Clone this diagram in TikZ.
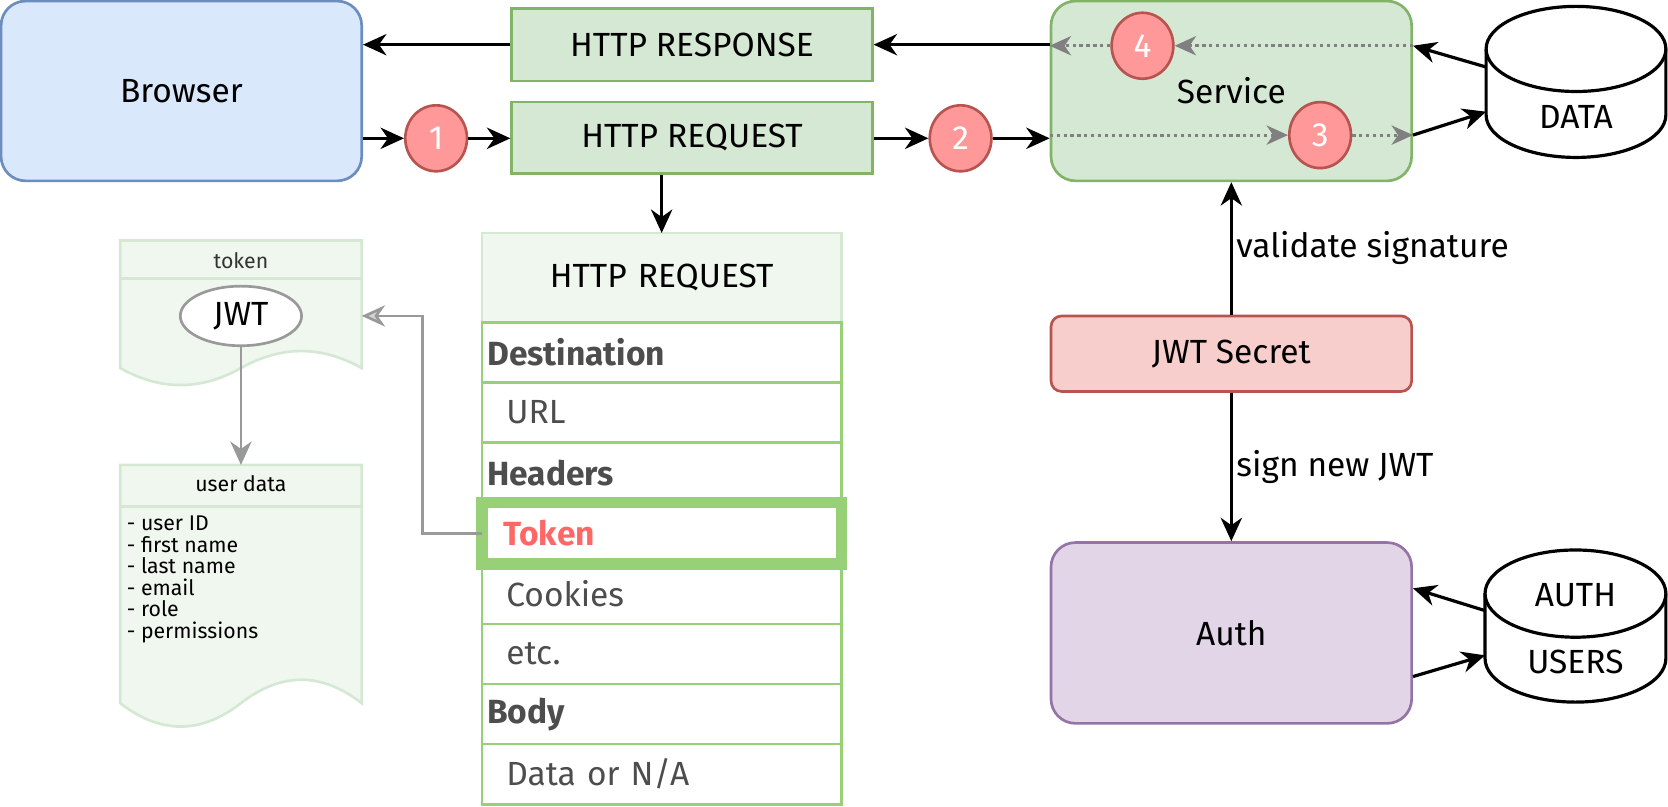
\documentclass[tikz,border=0pt]{standalone}
\usepackage{fontspec}
\setmainfont{Fira Sans}
\usetikzlibrary{positioning,shapes.geometric,arrows.meta}

\definecolor{bluFill}{HTML}{DAE8FC}
\definecolor{bluLine}{HTML}{6C8EBF}
\definecolor{grnFill}{HTML}{D5E8D4}
\definecolor{grnLine}{HTML}{82B366}
\definecolor{redFill}{HTML}{F8CECC}
\definecolor{redLine}{HTML}{B85450}
\definecolor{purFill}{HTML}{E1D5E7}
\definecolor{purLine}{HTML}{9673A6}
\definecolor{numFill}{HTML}{FF9999}
\definecolor{tblLine}{HTML}{97D077}
\definecolor{tblText}{HTML}{4D4D4D}
\definecolor{tokRed}{HTML}{FF6666}
\definecolor{docFill}{HTML}{F0F7EF}
\definecolor{docLine}{HTML}{D5E8D4}
\definecolor{arrGray}{HTML}{999999}
\definecolor{dotGray}{HTML}{808080}

\begin{document}
\begin{tikzpicture}[
	x=1pt, y=-1pt,
	font=\fontsize{31.5}{36}\selectfont,
	box/.style = {draw, line width=2.5pt, inner sep=0pt, minimum width=339pt},
	msg/.style = {box, fill=grnFill, draw=grnLine},
	num/.style = {ellipse, draw=redLine, fill=numFill, line width=2.5pt, minimum width=58pt, minimum height=62pt, inner sep=0pt, text=white},
	arr/.style = {line width=3pt, -{Stealth[length=22pt, width=20pt, inset=7pt]}},
	dots/.style = {draw=dotGray, line width=3pt, dash pattern=on 3pt off 3.5pt, -{Stealth[length=20pt, width=18pt, inset=6pt]}},
	garr/.style = {draw=arrGray, line width=2.5pt, -{Stealth[length=22pt, width=20pt, inset=7pt]}},
	doc/.style = {draw=docLine, fill=docFill, line width=2.5pt},
	small/.style = {font=\fontsize{20}{20.2}\selectfont},
	cyl/.style = {draw, fill=white, line width=3pt},
	row/.style = {draw=tblLine, line width=2.5pt, outer sep=0pt, minimum width=338pt, minimum height=56.5pt, text width=328pt, inner xsep=5pt, inner ysep=0pt, align=left, text=tblText},
	sect/.style = {row, font=\fontsize{31.5}{36}\selectfont\bfseries},
	item/.style = {row, execute at begin node=\hspace*{18pt}},
	]
	\useasboundingbox (0,0) rectangle (1568,758.5);

	% main flow
	\node[box, fill=bluFill, draw=bluLine, rounded corners=23pt, minimum height=169pt] (browser) at (170.5,85.5) {Browser};
	\node[msg, minimum height=68pt] (resp) at (650.5,42) {HTTP RESPONSE};
	\node[msg, minimum height=67pt] (req) at (650.5,129.5) {HTTP REQUEST};
	\node[box, fill=grnFill, draw=grnLine, rounded corners=23pt, minimum height=169pt] (svc) at (1157.5,85.5) {Service};
	\node[box, fill=redFill, draw=redLine, rounded corners=10pt, minimum height=71pt] (sec) at (1157.5,332.5) {JWT Secret};
	\node[box, fill=purFill, draw=purLine, rounded corners=23pt, minimum height=170pt] (auth) at (1157.5,595) {Auth};

	\node[num] (c1) at (410,130) {1};
	\node[num] (c2) at (903,130) {2};
	\node[num] (c3) at (1241,127) {3};
	\node[num] (c4) at (1074,43) {4};

	\draw[arr] (resp.west) -- (browser.east |- resp);
	\draw[arr] (browser.east |- c1) -- (c1);
	\draw[arr] (c1) -- (req.west |- c1);
	\draw[arr] (req.east |- c2) -- (c2);
	\draw[arr] (c2) -- (svc.west |- c2);
	\draw[arr] (svc.west |- resp) -- (resp.east);

	\draw[dots] (svc.west |- c3) -- (c3);
	\draw[dots] (c3) -- (svc.east |- c3);
	\draw[dots] (svc.east |- c4) -- (c4);
	\draw[dots] (c4) -- (svc.west |- c4);

	\draw[arr] (sec) -- (svc) node[midway, right] {validate signature};
	\draw[arr] (sec) -- (auth) node[midway, right] {sign new JWT};

	% databases
	\draw[cyl] (1397,46) -- (1397,108) arc[start angle=180, end angle=0, x radius=84.5, y radius=40] -- (1566,46);
	\draw[cyl] (1481.5,46) ellipse [x radius=84.5, y radius=40];
	\node (data) at (1481.5,110) {DATA};
	\coordinate (dtop) at (1397,63);
	\coordinate (dbot) at (1397,105);
	\draw[arr] (dtop) -- (svc.east |- c4);
	\draw[arr] (svc.east |- c3) -- (dbot);

	\draw[cyl] (1396,558) -- (1396,619) arc[start angle=180, end angle=0, x radius=85, y radius=41] -- (1566,558);
	\draw[cyl] (1481,558) ellipse [x radius=85, y radius=41];
	\node (authdb) at (1481,559) {AUTH};
	\node (users) at (1481,622) {USERS};
	\coordinate (atop) at (1396,574);
	\coordinate (abot) at (1396,616);
	\draw[arr] (atop) -- ([yshift=42pt]auth.east);
	\draw[arr] ([yshift=-41pt]auth.east) -- (abot);

	% request table
	\node[row, draw=docLine, fill=docFill, text=black, align=center, minimum height=84pt, anchor=north west] (hdr) at (453,219) {HTTP REQUEST};
	\node[sect, below=0pt of hdr] (dest) {Destination};
	\node[item, below=0pt of dest] (url) {URL};
	\node[sect, below=0pt of url] (hdrs) {Headers};
	\node[sect, below=0pt of hdrs, line width=11pt, minimum height=57.5pt, text=tokRed, execute at begin node=\hspace*{15pt}] (tok) {Token};
	\node[item, below=0pt of tok] (cook) {Cookies};
	\node[item, below=0pt of cook] (etc) {etc.};
	\node[sect, below=0pt of etc] (body) {Body};
	\node[item, below=0pt of body] (dat) {Data or N/A};
	\draw[arr] (req.south -| hdr) -- (hdr);

	% token and user data
	\draw[doc] (113,226) -- (340,226) -- (340,346) .. controls (302.2,324.7) and (264.3,324.7) .. (226.5,346) .. controls (188.7,367.3) and (150.8,367.3) .. (113,346) -- cycle;
	\draw[docLine, line width=2.5pt] (113,262) -- (340,262);
	\node[small, text=black!80] (toktitle) at (226.5,245) {token};
	\node[ellipse, draw=arrGray, fill=white, line width=2.5pt, minimum width=114pt, minimum height=56pt, inner sep=0pt] (jwt) at (226.5,297) {JWT};

	\draw[doc] (113,437) -- (340,437) -- (340,661) .. controls (302.2,631.7) and (264.3,631.7) .. (226.5,661) .. controls (188.7,690.3) and (150.8,690.3) .. (113,661) -- cycle;
	\draw[docLine, line width=2.5pt] (113,476) -- (340,476);
	\node[small] (udtitle) at (226.5,455) {user data};
	\node[small, anchor=north west, align=left, inner sep=0pt] (udlist) at (119,485) {- user ID\\- first name\\- last name\\- email\\- role\\- permissions};

	\coordinate (udin) at (226.5,437);
	\coordinate (tokin) at (340,297);
	\draw[garr] (jwt) -- (udin);
	\draw[garr, -{Stealth[length=22pt, width=20pt, inset=7pt, fill=arrGray!40]}] (tok.west) -- ++(-56,0) |- (tokin);
\end{tikzpicture}
\end{document}
